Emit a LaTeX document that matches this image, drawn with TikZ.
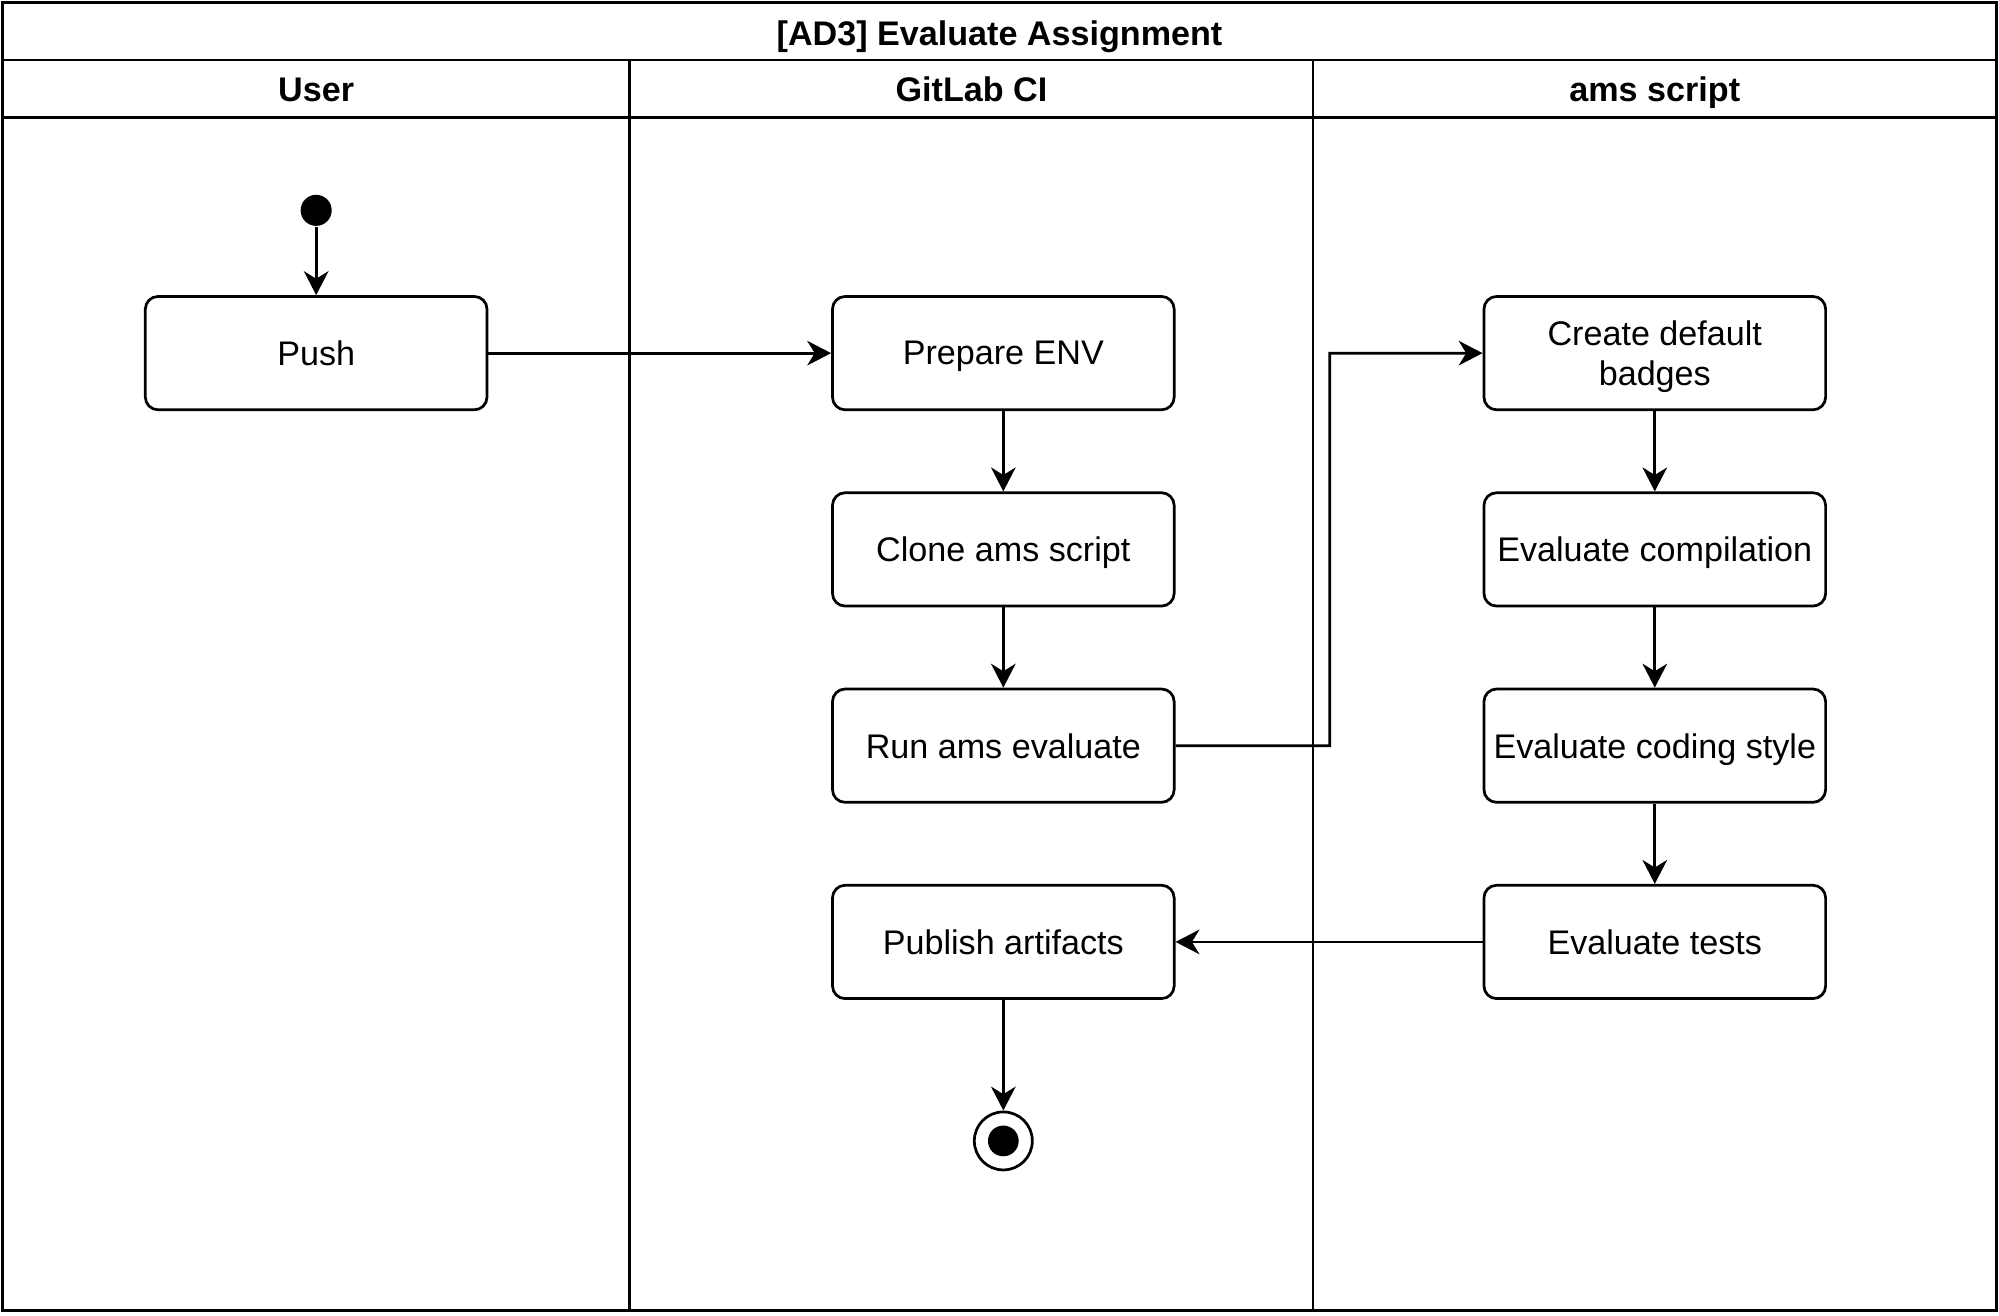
\documentclass[tikz,border=0pt]{standalone}
\usepackage{fontspec}
\setmainfont{Liberation Sans}
\usetikzlibrary{positioning}
\usetikzlibrary{arrows.meta}
\tikzset{>={Stealth[length=7pt,width=7.2pt,inset=2.2pt]}}
\tikzset{act/.style={draw, rounded corners=3.7pt, minimum width=100.1pt, minimum height=33.2pt, align=center, inner sep=2pt, text depth=0pt}}
\tikzset{init/.style={circle, fill=black, minimum size=9.1pt, inner sep=0pt}}
\tikzset{final/.style={circle, draw, fill=white, minimum size=17pt, inner sep=0pt, path picture={\fill[black] (path picture bounding box.center) circle (4.5pt);}}}
\tikzset{hdr/.style={font=\bfseries, anchor=base}}

\begin{document}
\begin{tikzpicture}[x=0.3735pt, y=-0.3735pt, line width=0.8pt]
\useasboundingbox (0,0) rectangle (1568,1031.5);
% lanes
\draw (2,2) rectangle (1566,1028);
\draw (2,47) -- (1566,47);
\draw (2,92) -- (1566,92);
\draw (494,47) -- (494,1028);
\draw (1030,47) -- (1030,1028);
\node[hdr] (title) at (784,35.5) {[AD3] Evaluate Assignment};
\node[hdr] (user) at (248,79.5) {User};
\node[hdr] (ci) at (762,79.5) {GitLab CI};
\node[hdr] (ams) at (1298,79.5) {ams script};

\begin{scope}[on grid, node distance=57.5pt]
\node[init] (start) at (248,165) {};
\node[act] (push) at (248,277) {Push};

\node[act] (prep) at (787,277) {Prepare ENV};
\node[act] (clone) [below = of prep] {Clone ams script};
\node[act] (run) [below = of clone] {Run ams evaluate};
\node[act] (publish) [below = of run] {Publish artifacts};
\node[final] (end) [below = 58.3pt of publish] {};

\node[act] (badges) at (1298,277) {Create default\\badges};
\node[act] (compile) [below = of badges] {Evaluate compilation};
\node[act] (style) [below = of compile] {Evaluate coding style};
\node[act] (tests) [below = of style] {Evaluate tests};
\end{scope}

\coordinate (bend) at (1043,585);

\draw[->] (start) -- (push);
\draw[->] (push) -- (prep);
\draw[->] (prep) -- (clone);
\draw[->] (clone) -- (run);
\draw[->] (run.east) -- (bend) |- (badges.west);
\draw[->] (badges) -- (compile);
\draw[->] (compile) -- (style);
\draw[->] (style) -- (tests);
\draw[->] (tests) -- (publish);
\draw[->] (publish) -- (end);
\end{tikzpicture}
\end{document}
